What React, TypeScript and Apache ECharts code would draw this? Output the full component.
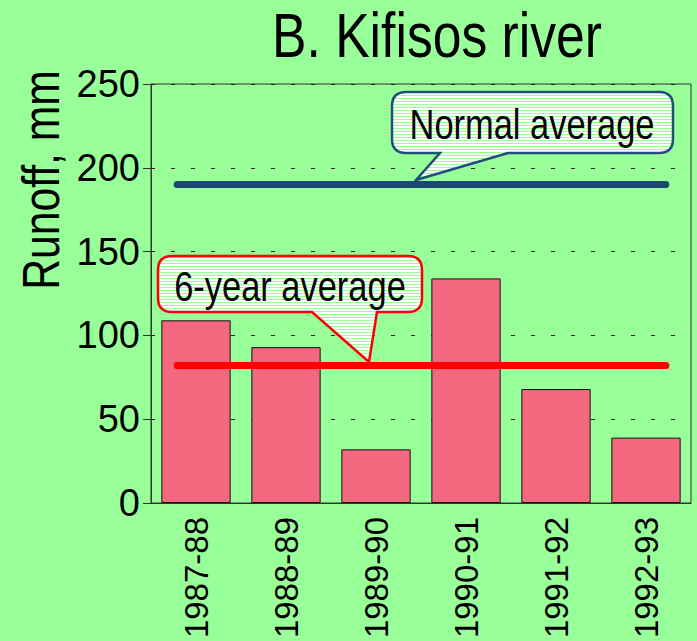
import React, { useEffect, useRef } from "react";
import * as echarts from "echarts";

const categories = ["1987-88", "1988-89", "1989-90", "1990-91", "1991-92", "1992-93"];
const runoff = [109, 93, 32, 134, 68, 39];
const normalAverage = 190;
const sixYearAverage = 82;
const lineSpan = [0.29, 5.72];
const yTicks = { min: 0, max: 250, interval: 50 };

const FONT = '"Liberation Sans", Arial, sans-serif';
const NARROW = 0.82;
const BG = "#99FF99";

const blueCallout =
  "M406,92 H659 Q673,92 673,106 V139 Q673,153 659,153 H508 L416,180 L440,153 H406 Q392,153 392,139 V106 Q392,92 406,92 Z";
const redCallout =
  "M172,256 H408 Q422,256 422,270 V298 Q422,312 408,312 H377 L369,362 L312,312 H172 Q158,312 158,298 V270 Q158,256 172,256 Z";

let registered = false;
function registerShapes() {
  if (registered) return;
  echarts.graphic.registerShape("calloutBlue", echarts.graphic.extendPath(blueCallout, {}) as any);
  echarts.graphic.registerShape("calloutRed", echarts.graphic.extendPath(redCallout, {}) as any);
  registered = true;
}

function makePattern() {
  const c = document.createElement("canvas");
  c.width = 4;
  c.height = 3;
  const ctx = c.getContext("2d")!;
  ctx.fillStyle = "#ffffff";
  ctx.fillRect(0, 0, 4, 3);
  ctx.fillStyle = BG;
  ctx.fillRect(0, 2, 4, 1);
  return { image: c, repeat: "repeat", imageWidth: 4, imageHeight: 3 } as any;
}

function narrowText(text: string, x: number, y: number, size: number, extra: any = {}) {
  return {
    type: "text",
    x,
    y,
    scaleX: NARROW,
    z: 101,
    ...extra,
    style: {
      text,
      font: `${size}px ${FONT}`,
      fill: "#000",
      align: "center",
      verticalAlign: "middle",
    },
  };
}

export default function App() {
  const ref = useRef<HTMLDivElement>(null);
  useEffect(() => {
    if (!ref.current) return;
    registerShapes();
    const chart = echarts.init(ref.current, null, { renderer: "svg" });
    const pattern = makePattern();
    chart.setOption({
      animation: false,
      backgroundColor: BG,
      grid: {
        left: 151,
        top: 84,
        right: 6,
        bottom: 138,
        show: true,
        borderColor: "#333",
        borderWidth: 1,
        backgroundColor: "transparent",
        containLabel: false,
        outerBoundsMode: "none",
      },
      xAxis: [
        {
          type: "category",
          data: categories,
          axisLine: { lineStyle: { color: "#333", width: 1 } },
          axisTick: { length: 10, lineStyle: { color: "#333" } },
          axisLabel: {
            rotate: 90,
            margin: 14,
            fontFamily: FONT,
            fontSize: 33,
            color: "#000",
          },
        },
        { type: "value", min: 0, max: 6, show: false },
      ],
      yAxis: {
        type: "value",
        min: yTicks.min,
        max: yTicks.max,
        interval: yTicks.interval,
        axisLine: { show: true, lineStyle: { color: "#333", width: 1 } },
        axisTick: { show: true, length: 8, lineStyle: { color: "#333" } },
        axisLabel: { margin: 11, fontFamily: FONT, fontSize: 38, color: "#000" },
        splitLine: { show: true, lineStyle: { color: "#222", type: [4, 16], width: 1.2 } },
      },
      series: [
        {
          type: "bar",
          data: runoff,
          barCategoryGap: "23%",
          itemStyle: { color: "#F4687F", borderColor: "#111", borderWidth: 1 },
        },
        {
          type: "line",
          xAxisIndex: 1,
          data: [
            [lineSpan[0], normalAverage],
            [lineSpan[1], normalAverage],
          ],
          symbol: "none",
          lineStyle: { color: "#1C4770", width: 7, cap: "round" },
          z: 5,
        },
        {
          type: "line",
          xAxisIndex: 1,
          data: [
            [lineSpan[0], sixYearAverage],
            [lineSpan[1], sixYearAverage],
          ],
          symbol: "none",
          lineStyle: { color: "#FF0000", width: 7, cap: "round" },
          z: 5,
        },
      ],
      graphic: [
        narrowText("B. Kifisos river", 437, 35, 63),
        narrowText("Runoff, mm", 41, 180, 52, { rotation: Math.PI / 2 }),
        {
          type: "calloutBlue",
          z: 100,
          style: { fill: pattern, stroke: "#1F4E79", lineWidth: 2.5 },
        },
        narrowText("Normal average", 532, 124, 42),
        {
          type: "calloutRed",
          z: 100,
          style: { fill: pattern, stroke: "#FF0000", lineWidth: 2.5 },
        },
        narrowText("6-year average", 290, 286, 42),
      ],
    });
    return () => chart.dispose();
  }, []);
  return (
    <div
      ref={ref}
      style={{ position: "fixed", left: 0, top: 0, width: 697, height: 641 }}
    />
  );
}
